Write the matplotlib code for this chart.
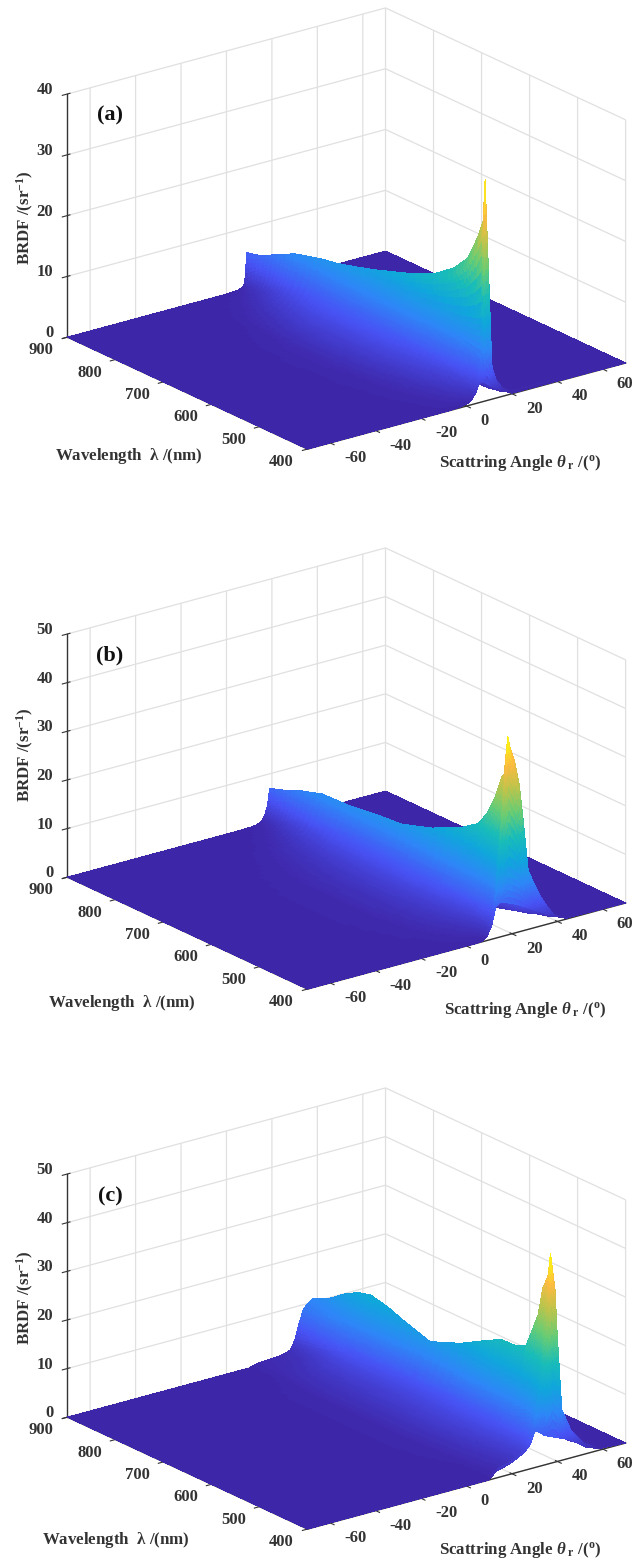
import numpy as np
import matplotlib
matplotlib.use('Agg')
import matplotlib.pyplot as plt
from matplotlib.colors import LinearSegmentedColormap
from mpl_toolkits.mplot3d import proj3d

plt.rcParams['font.family'] = ['Liberation Serif', 'DejaVu Serif']
plt.rcParams['font.weight'] = 'bold'
plt.rcParams['mathtext.fontset'] = 'custom'
plt.rcParams['mathtext.rm'] = 'Liberation Serif:bold'
plt.rcParams['mathtext.it'] = 'Liberation Serif:italic:bold'
plt.rcParams['mathtext.default'] = 'rm'
plt.rcParams['grid.color'] = '#e0e0e0'
plt.rcParams['grid.linewidth'] = 0.9

# values
theta_ticks = [-60, -40, -20, 0, 20, 40, 60]
lambda_ticks = [400, 500, 600, 700, 800, 900]
z_ticks_a = [0, 10, 20, 30, 40]
z_ticks_b = [0, 10, 20, 30, 40, 50]

theta_a = [-70, -25, -15, -10, -6, -3, 0, 2, 4, 5, 6, 7, 8, 9, 10, 11, 12, 14, 17, 20, 70]
lambda_a = [900, 870, 835, 800, 745, 710, 670, 630, 595, 560, 510, 470, 440, 420, 408, 404, 403, 402, 401, 400]
brdf_a = [
    [0, 0, 0, 0, 0, 0, 0, .05, .1, .15, .25, .4, 1, 5.9, 3, 1.2, .5, .2, .1, 0, 0],
    [0, 0, 0, 0, .1, .2, .4, .6, .9, 1.2, 1.6, 2.2, 3.5, 6.5, 3.5, 1.5, .7, .3, .1, 0, 0],
    [0, 0, 0, .2, .4, .7, 1.1, 1.5, 2, 2.4, 3, 3.8, 5.3, 8, 4, 1.8, .8, .3, .1, 0, 0],
    [0, 0, .1, .5, .9, 1.4, 2, 2.6, 3.3, 3.8, 4.5, 5.4, 7, 9.4, 4.5, 2, .9, .3, .1, 0, 0],
    [0, 0, .3, 1, 1.7, 2.4, 3.2, 3.9, 4.7, 5.3, 6, 6.9, 8.3, 10.6, 5, 2.2, 1, .4, .1, 0, 0],
    [0, .1, .5, 1.3, 2.1, 2.9, 3.7, 4.5, 5.4, 6, 6.7, 7.6, 9, 11.1, 5.3, 2.3, 1, .4, .1, 0, 0],
    [0, .1, .6, 1.4, 2.2, 3, 3.9, 4.7, 5.7, 6.3, 7.1, 8.1, 9.7, 12, 5.6, 2.4, 1.1, .4, .1, 0, 0],
    [0, .1, .6, 1.4, 2.2, 3, 3.9, 4.8, 5.8, 6.5, 7.4, 8.5, 10.2, 13, 6, 2.6, 1.2, .4, .1, 0, 0],
    [0, .1, .5, 1.3, 2.1, 2.9, 3.8, 4.7, 5.8, 6.5, 7.5, 8.8, 10.8, 14, 6.4, 2.8, 1.2, .5, .1, 0, 0],
    [0, .1, .4, 1.1, 1.9, 2.7, 3.6, 4.5, 5.6, 6.4, 7.5, 9, 11.2, 15, 6.8, 3, 1.3, .5, .1, 0, 0],
    [0, 0, .3, .8, 1.5, 2.2, 3, 3.9, 5, 5.9, 7.1, 8.9, 11.8, 16.8, 7.5, 3.3, 1.4, .5, .1, 0, 0],
    [0, 0, .2, .5, 1, 1.6, 2.4, 3.2, 4.3, 5.2, 6.5, 8.6, 12.2, 19.2, 8.5, 3.7, 1.6, .6, .2, 0, 0],
    [0, 0, .1, .3, .6, 1.1, 1.8, 2.5, 3.6, 4.5, 5.9, 8.2, 12.6, 21.9, 11, 5, 1.8, .7, .2, 0, 0],
    [0, 0, 0, .2, .4, .7, 1.2, 1.9, 2.9, 3.8, 5.2, 7.8, 13, 26, 14, 6, 2, .8, .3, .1, 0],
    [0, 0, 0, .1, .2, .4, .8, 1.3, 2.3, 3.2, 4.6, 7.4, 13.5, 29.3, 16, 8, 2.6, 1, .4, .1, 0],
    [0, 0, 0, 0, 0, .1, .3, .7, 1.7, 2.7, 4.5, 7.5, 15, 36.2, 26, 16, 5, 2.6, 1, .3, 0],
    [0, 0, 0, 0, 0, .1, .3, .7, 1.7, 2.7, 4, 6.5, 11.5, 26, 19, 11, 4.2, 2.3, .9, .2, 0],
    [0, 0, 0, 0, 0, .1, .3, .7, 1.7, 2.7, 3.5, 5.2, 8.5, 17, 12.5, 7, 3.5, 2.1, .9, .2, 0],
    [0, 0, 0, 0, 0, .1, .3, .7, 1.7, 2.7, 3.2, 4, 5.5, 9, 7, 4.5, 2.8, 1.8, .8, .1, 0],
    [0, 0, 0, 0, 0, .1, .3, .7, 1.7, 2.7, 3.2, 3.2, 3, 2.8, 2.5, 2.2, 2, 1.5, .7, .1, 0],
]

theta_b = [-70, -25, -10, -2, 4, 7, 9, 11, 13, 15, 16, 17, 18, 19, 20, 22, 24, 26, 28, 33, 39, 44, 70]
lambda_b = [900, 870, 835, 790, 735, 673, 625, 562, 500, 465, 448, 431, 417, 406, 404, 403, 402, 401, 400]
brdf_b = [
    [0, 0, 0, 0, 0, 0, .05, .1, .2, .5, 1, 2, 3.5, 7, 4, 1.5, .7, .3, .1, 0, 0, 0, 0],
    [0, 0, 0, 0, .1, .2, .3, .5, .8, 1.5, 2.2, 3.2, 5, 8, 5, 2, 1, .4, .2, 0, 0, 0, 0],
    [0, 0, 0, .1, .4, .7, 1, 1.4, 2, 3, 3.8, 5, 6.8, 9.5, 6, 2.6, 1.3, .6, .3, .1, 0, 0, 0],
    [0, 0, .1, .5, 1.1, 1.6, 2, 2.6, 3.4, 4.6, 5.5, 6.6, 8.3, 10.9, 7, 3, 1.5, .8, .4, .1, 0, 0, 0],
    [0, 0, .3, .9, 1.7, 2.3, 2.9, 3.6, 4.5, 5.7, 6.5, 7.5, 9, 11.1, 7.5, 3.4, 1.8, .9, .5, .1, 0, 0, 0],
    [0, .1, .5, 1.2, 2.1, 2.8, 3.4, 4.2, 5.1, 6.4, 7.2, 8.3, 9.8, 11.9, 8, 3.8, 2, 1, .5, .2, 0, 0, 0],
    [0, .1, .5, 1.3, 2.3, 3, 3.6, 4.4, 5.4, 6.7, 7.5, 8.6, 10.1, 12.3, 8.6, 4.2, 2.3, 1.2, .6, .2, 0, 0, 0],
    [0, .1, .5, 1.3, 2.3, 3.1, 3.8, 4.7, 5.8, 7.3, 8.3, 9.6, 11.6, 14.4, 10.5, 5.2, 2.9, 1.5, .8, .2, 0, 0, 0],
    [0, 0, .3, 1, 2, 2.8, 3.5, 4.5, 5.9, 7.8, 9.2, 11, 13.7, 17.4, 13.5, 7, 3.9, 2, 1, .3, 0, 0, 0],
    [0, 0, .2, .7, 1.5, 2.2, 3, 4, 5.5, 7.9, 9.7, 12, 15.5, 19.8, 16, 9, 5, 2.7, 1.3, .5, .1, 0, 0],
    [0, 0, .1, .5, 1.1, 1.8, 2.5, 3.6, 5.2, 8, 10.2, 13, 17.5, 22.6, 18.8, 11.5, 6.5, 3.5, 1.8, .8, .2, 0, 0],
    [0, 0, 0, .3, .8, 1.3, 2, 3.2, 5, 8.2, 11, 15, 20.5, 26.7, 23, 15, 9, 5, 2.6, 1.2, .3, 0, 0],
    [0, 0, 0, .1, .5, .9, 1.5, 2.8, 4.8, 8.7, 12, 17, 24, 31.5, 28, 20, 13, 7.5, 3.8, 1.8, .5, .1, 0],
    [0, 0, 0, 0, .2, .5, 1.1, 2.5, 4.8, 10, 14, 20, 27, 33.5, 31, 25, 18, 11, 5.5, 3, .8, .1, 0],
    [0, 0, 0, 0, 0, .1, .8, 2.7, 6.6, 17.9, 24, 30, 36, 40.5, 38, 35, 30, 21.4, 11.7, 6.1, 1.2, 0, 0],
    [0, 0, 0, 0, 0, .1, .8, 2.7, 6.6, 14, 19, 24, 28, 31, 29.5, 27, 23.5, 17, 10, 5.9, 1.2, .1, 0],
    [0, 0, 0, 0, 0, .1, .8, 2.7, 6.6, 11, 14, 17, 19, 21, 20, 18.5, 16, 12, 8, 5.6, 1.3, .1, 0],
    [0, 0, 0, 0, 0, .1, .8, 2.7, 6.6, 8.5, 10, 11, 12, 12, 11.5, 11, 9.8, 8, 6.5, 5, 1.3, .1, 0],
    [0, 0, 0, 0, 0, .1, .8, 2.7, 6.6, 7.2, 7, 6.8, 6.6, 6.4, 6.2, 5.8, 5.3, 4.8, 4.2, 2.8, 1.2, .2, 0],
]

theta_c = [-70, -20, 0, 10, 14, 18, 22, 26, 28, 30, 32, 34, 35, 36, 37, 38, 39, 40, 41, 43, 47, 53, 59, 70]
lambda_c = [900, 862, 833, 806, 779, 744, 708, 656, 592, 550, 508, 479, 456, 431, 421, 410, 405, 403, 402, 401, 400]
brdf_c = [
    [0, 0, 0, 0, .5, .6, .7, 1, 1.4, 3.1, 6.5, 9.2, 9.6, 10, 10.4, 10.8, 7, 5, 3, 1.5, .5, .1, 0, 0],
    [0, 0, 0, .1, .6, .8, 1, 1.6, 2.2, 3.8, 7, 10, 10.5, 11, 11.8, 12.6, 8, 5.8, 3.6, 1.8, .6, .1, 0, 0],
    [0, 0, 0, .2, .7, 1.1, 1.6, 2.4, 3, 4.4, 7, 10.5, 11.3, 12, 13.3, 14.8, 10, 7, 4.5, 2.2, .8, .2, 0, 0],
    [0, 0, .05, .3, .9, 1.4, 2, 3, 3.8, 5, 6.9, 10.2, 11.5, 12.8, 14.5, 16.3, 12, 8.5, 6, 3, 1, .3, 0, 0],
    [0, 0, .1, .5, 1, 1.5, 2.2, 3.3, 4, 5, 6.5, 9.3, 11, 13, 15, 17, 13, 10, 7.5, 4, 1.5, .5, .1, 0],
    [0, 0, .1, .5, 1.1, 1.6, 2.3, 3.4, 4, 4.9, 6.3, 8.8, 10.4, 12.2, 14.2, 16.2, 12.5, 9.5, 7, 3.8, 1.4, .5, .1, 0],
    [0, 0, .1, .5, 1.1, 1.7, 2.4, 3.4, 4, 4.8, 6, 8.1, 9.4, 11, 12.8, 14.8, 11.5, 8.8, 6.5, 3.5, 1.3, .5, .1, 0],
    [0, 0, .1, .5, 1.1, 1.7, 2.5, 3.4, 4, 4.6, 5.6, 7.3, 8.4, 9.7, 11.3, 13.1, 10.3, 8, 6, 3.3, 1.2, .4, .1, 0],
    [0, 0, .1, .5, 1.1, 1.8, 2.6, 3.7, 4.3, 5.1, 6.2, 8.4, 9.8, 11.4, 13.4, 15.7, 12.5, 9.8, 7.3, 4, 1.5, .5, .1, 0],
    [0, 0, .1, .4, 1, 1.7, 2.6, 3.8, 4.5, 5.5, 6.8, 9.3, 11, 13, 15.4, 18.1, 14.5, 11.5, 8.5, 4.6, 1.8, .6, .1, 0],
    [0, 0, .05, .3, .9, 1.5, 2.4, 3.7, 4.5, 5.6, 7.2, 10, 12, 14.4, 17.2, 20.4, 16.5, 13, 9.7, 5.2, 2, .7, .1, 0],
    [0, 0, 0, .2, .8, 1.4, 2.2, 3.5, 4.4, 5.6, 7.3, 10.3, 12.3, 14.8, 17.5, 20.5, 17, 13.5, 10, 5.4, 2.1, .7, .1, 0],
    [0, 0, 0, .1, .7, 1.2, 2, 3.3, 4.2, 5.5, 7.4, 10.8, 13, 15.6, 18.4, 21.4, 18.5, 14.8, 11, 5.8, 2.3, .8, .1, 0],
    [0, 0, 0, .05, .6, 1.1, 1.8, 3.1, 4.1, 5.6, 8, 12.5, 15.5, 19.5, 24, 28.9, 25.5, 21, 15, 7.5, 3, 1, .1, 0],
    [0, 0, 0, 0, .5, 1, 1.8, 3, 4.1, 5.7, 8.5, 14, 18, 23, 29, 34.9, 31, 26, 19, 8.8, 4, 1.3, .2, 0],
    [0, 0, 0, 0, .5, 1, 1.9, 3, 4.2, 6, 10, 16, 20, 26, 32, 38, 35, 30, 22, 9.5, 4.6, 1.5, .1, 0],
    [0, 0, 0, 0, 1, 1.5, 2.2, 3.2, 4.5, 7, 13, 19.4, 25, 30, 36, 42.8, 39, 35, 25.3, 10, 5.3, 1.8, .1, 0],
    [0, 0, 0, 0, 1.3, 1.8, 2.5, 3.5, 4.7, 7.2, 11, 15, 19, 23, 28, 33, 30, 27, 19, 8, 4.5, 1.5, .1, 0],
    [0, 0, 0, 0, 1.5, 2, 2.7, 3.7, 4.8, 7.3, 9.5, 11.5, 13, 16, 19, 22, 20, 18, 13, 6.5, 3.9, 1.4, .2, 0],
    [0, 0, 0, 0, 1.7, 2.2, 2.8, 3.8, 4.9, 7.4, 8.2, 8, 8.5, 10, 11.5, 13, 12, 11, 8, 5.5, 3.6, 1.2, .2, 0],
    [0, 0, 0, 0, 1.9, 2.4, 3, 4, 5, 7.5, 7, 6.2, 5.9, 5.7, 5.5, 5.3, 5.1, 4.9, 4.7, 4.3, 3.3, 1.2, .3, 0],
]

# close to matlab's parula
parula = LinearSegmentedColormap.from_list('parula', [
    (0.2422, 0.1504, 0.6603), (0.2810, 0.3228, 0.9579), (0.1786, 0.5289, 0.9682),
    (0.0600, 0.6500, 0.8600), (0.1000, 0.7400, 0.7200), (0.4000, 0.8000, 0.4600),
    (0.7300, 0.7700, 0.3000), (0.9966, 0.7300, 0.2500), (0.9763, 0.9831, 0.0538)])

W, H = 644, 1566
fig = plt.figure(figsize=(W / 100, H / 100), dpi=100)


def px_text(x, y, s, **kw):
    fig.text(x / W, 1 - y / H, s, ha='center', va='center', **kw)


def split_cells(a, k):
    # cut every cell in k pieces along axis 0, same idea as matlab's "shading interp"
    a = np.asarray(a, dtype=float)
    idx = np.linspace(0, a.shape[0] - 1, (a.shape[0] - 1) * k + 1)
    return np.apply_along_axis(lambda col: np.interp(idx, np.arange(a.shape[0]), col), 0, a)


def label3d(ax, x, y, z, s, **kw):
    # plain 2d text at the projected spot of a 3d point
    u, v, _ = proj3d.proj_transform(x, y, z, ax.get_proj())
    ax.text2D(u, v, s, transform=ax.transData, **kw)


def draw_panel(row, theta, lam, brdf, zticks, ztop, letter, letter_y, wl_x, wl_y, sa_x, sa_y, brdf_y):
    # box centre should land at (346.5, 228.5 + 540*row)
    side = 602
    cx, cy = 346.5, 228.5 + 540 * row
    left = cx - 0.5135 * side
    bottom = cy + 0.5135 * side
    ax = fig.add_axes([left / W, 1 - bottom / H, side / W, side / H], projection='3d', proj_type='ortho')
    ax.patch.set_alpha(0)
    ax.set_box_aspect((399.7, 396, 260))
    ax.view_init(elev=20.8, azim=-127.3)

    T, L = np.meshgrid(theta, lam)
    Z = np.array(brdf, dtype=float)
    T = split_cells(split_cells(T, 4).T, 6).T
    L = split_cells(split_cells(L, 4).T, 6).T
    Z = split_cells(split_cells(Z, 4).T, 6).T
    ax.plot_surface(T, L, Z, cmap=parula, vmin=0, vmax=Z.max(), rstride=1, cstride=1,
                    linewidth=0, antialiased=False, shade=False)

    ax.set_xlim(-70, 70, view_margin=0)
    ax.set_ylim(400, 900, view_margin=0)
    ax.set_zlim(0, ztop, view_margin=0)
    ax.set_xticks(theta_ticks)
    ax.set_yticks(lambda_ticks)
    ax.set_zticks(zticks)
    ax.set_xticklabels([])
    ax.set_yticklabels([])
    ax.set_zticklabels([])
    ax.tick_params(axis='both', colors='#333333')
    for axis in (ax.xaxis, ax.yaxis, ax.zaxis):
        axis.set_pane_color((1, 1, 1, 0))
        axis.pane.set_edgecolor('#e0e0e0')
        axis.line.set_color('#333333')
        axis.line.set_linewidth(1.0)
    ax.zaxis.pane.set_visible(False)

    # tick labels sit a bit off the axes, like matlab puts them
    zpx = ztop / 243
    lab = dict(fontsize=12, color='#333333', va='center')
    for t in theta_ticks:
        label3d(ax, t, 371, -8.5 * zpx, str(t), ha='left', **lab)
    for w in lambda_ticks:
        label3d(ax, -76, w, -9.3 * zpx, str(w), ha='right', **lab)
    for z in zticks:
        label3d(ax, -76.2, 900, z + 7.8 * zpx, str(z), ha='right', **lab)

    px_text(110, letter_y, letter, fontsize=16, color='#111111')
    px_text(wl_x, wl_y, r'Wavelength  $\lambda$ /(nm)', fontsize=12.2, color='#333333')
    px_text(sa_x, sa_y, r'Scattring Angle $\mathit{\theta}_{\ r}$ /($^{o}$)', fontsize=12.2, color='#333333')
    px_text(25, brdf_y, r'BRDF /(sr$^{-1}$)', fontsize=12.2, color='#333333', rotation=90)


draw_panel(0, theta_a, lambda_a, brdf_a, z_ticks_a, 40, '(a)', 115, 129, 456, 520, 463, 218)
draw_panel(1, theta_b, lambda_b, brdf_b, z_ticks_b, 50, '(b)', 655, 122, 1003, 525, 1010, 755)
draw_panel(2, theta_c, lambda_c, brdf_c, z_ticks_b, 50, '(c)', 1196, 116, 1540, 520, 1550, 1298)

fig.savefig('out.png', dpi=100, facecolor='white')
